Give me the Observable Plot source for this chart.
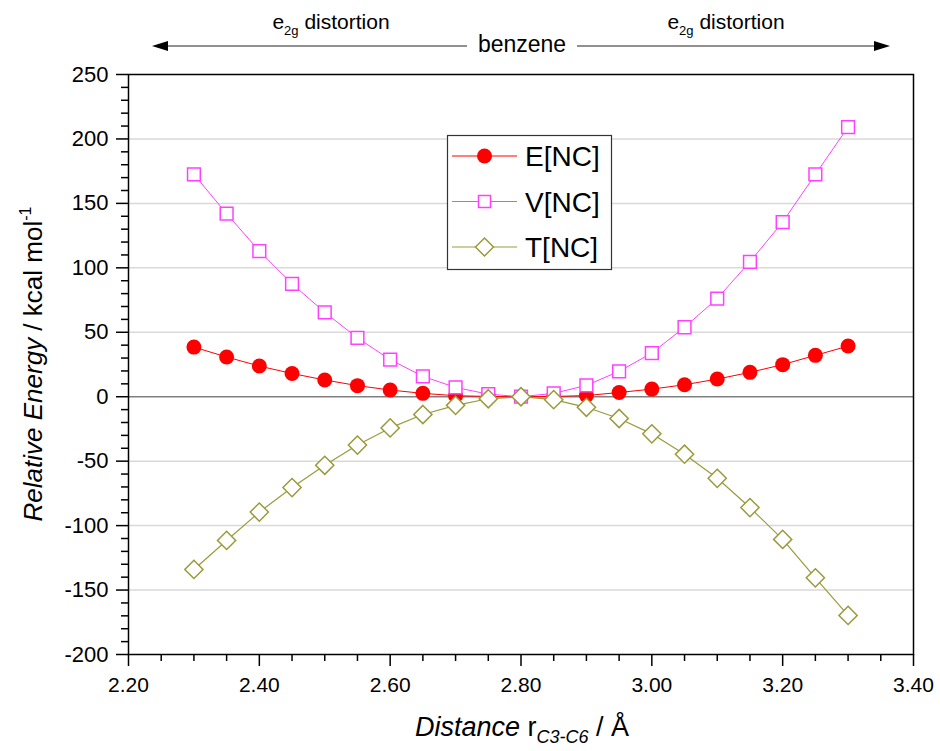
<!DOCTYPE html>
<html><head><meta charset="utf-8">
<script src="https://cdn.jsdelivr.net/npm/d3@7"></script>
<script src="https://cdn.jsdelivr.net/npm/@observablehq/plot@0.6"></script>
<style>
body{margin:0;background:#fff;}
svg{font-family:Arial,"Liberation Sans",sans-serif;}
</style>
</head><body><div id="chart"></div>
<script>
// ---- data ----
const distance = [2.30,2.35,2.40,2.45,2.50,2.55,2.60,2.65,2.70,2.75,2.80,2.85,2.90,2.95,3.00,3.05,3.10,3.15,3.20,3.25,3.30];
const eNC = [38.5,30.8,23.8,18.0,13.0,8.6,5.2,2.6,0.8,0.2,0,0.2,0.9,3.3,5.9,9.3,13.7,18.9,24.9,32.1,39.3];
const vNC = [172.5,142,113,87.6,65.5,45.6,28.8,15.8,7.2,2.0,0,2.6,8.8,19.7,33.9,53.9,76.2,104.7,135.5,172.5,209.2];
const tNC = [-134,-111.5,-89.5,-70.5,-53.2,-37.5,-24.2,-13.8,-6.7,-1.6,0,-2.3,-8.2,-16.9,-28.8,-44.6,-63.3,-86,-110.7,-140.5,-169.7];
const seriesNames = ["E[NC]","V[NC]","T[NC]"];
const xTicks = [2.20,2.40,2.60,2.80,3.00,3.20,3.40];
const yTicks = [-200,-150,-100,-50,0,50,100,150,200,250];
const xMinor = d3.range(2.20, 3.4001, 0.05).map(v => +v.toFixed(2)).filter(v => !xTicks.some(t => Math.abs(t - v) < 1e-6));
const yMinor = d3.range(-200, 251, 10).filter(v => v % 50 !== 0);

const colE = "#ff0000", colV = "#ff40ff", colT = "#9a9a3c";

const rows = distance.map((d, i) => ({x: d, E: eNC[i], V: vNC[i], T: tNC[i]}));

const svg = Plot.plot({
  width: 940, height: 751,
  marginLeft: 128, marginRight: 27, marginTop: 74, marginBottom: 97,
  x: {domain: [2.2, 3.4]},
  y: {domain: [-200, 250]},
  marks: [
    Plot.ruleY(yTicks.filter(v => v !== 0 && v !== 250 && v !== -200), {stroke: "#d9d9d9", strokeWidth: 1.5}),
    Plot.ruleY([0], {stroke: "#808080", strokeWidth: 1.5}),
    Plot.axisX(xTicks, {tickSize: 12, tickPadding: 11, tickFormat: d3.format(".2f"), fontSize: 21, strokeWidth: 1.5, label: null, fill: "#000"}),
    Plot.axisX(xMinor, {tickSize: 7, tickFormat: () => "", strokeWidth: 1.5, label: null}),
    Plot.axisY(yTicks, {tickSize: 12, tickPadding: 8, tickFormat: d => String(d), fontSize: 22, strokeWidth: 1.5, label: null, fill: "#000"}),
    Plot.axisY(yMinor, {tickSize: 7, tickFormat: () => "", strokeWidth: 1.5, label: null}),
    Plot.line(rows, {x: "x", y: "E", stroke: colE, strokeWidth: 1}),
    Plot.dot(rows, {x: "x", y: "E", r: 7.5, fill: colE, stroke: "none"}),
    Plot.line(rows, {x: "x", y: "V", stroke: colV, strokeWidth: 1}),
    Plot.dot(rows, {x: "x", y: "V", symbol: "square", r: 7.2, fill: "white", stroke: colV, strokeWidth: 1.5}),
    Plot.line(rows, {x: "x", y: "T", stroke: colT, strokeWidth: 1.2}),
    Plot.dot(rows, {x: "x", y: "T", symbol: "diamond2", r: 8.2, fill: "white", stroke: colT, strokeWidth: 1.5}),
    Plot.frame({stroke: "#000", strokeWidth: 1.5})
  ]
});

const s = d3.select(svg);

// y-axis title
const yt = s.append("text")
  .attr("transform", "translate(42,364) rotate(-90)")
  .attr("text-anchor", "middle")
  .attr("font-size", 26).attr("fill", "#000");
yt.append("tspan").attr("font-style", "italic").text("Relative Energy");
yt.append("tspan").text(" / kcal mol");
yt.append("tspan").attr("font-size", 16).attr("dy", -11).text("-1");

// x-axis title
const xt = s.append("text")
  .attr("x", 522).attr("y", 736)
  .attr("text-anchor", "middle")
  .attr("font-size", 27).attr("fill", "#000");
xt.append("tspan").attr("font-style", "italic").text("Distance");
xt.append("tspan").text(" r");
xt.append("tspan").attr("font-style", "italic").attr("font-size", 18).attr("dy", 7).text("C3-C6");
xt.append("tspan").attr("dy", -7).text(" / Å");

// top annotation
const ann = s.append("g").attr("fill", "#000");
ann.append("line").attr("x1", 160).attr("x2", 467).attr("y1", 46).attr("y2", 46).attr("stroke", "#222").attr("stroke-width", 1.2);
ann.append("path").attr("d", "M152,46 L168,41 L168,51 Z");
ann.append("line").attr("x1", 577).attr("x2", 882).attr("y1", 46).attr("y2", 46).attr("stroke", "#222").attr("stroke-width", 1.2);
ann.append("path").attr("d", "M890,46 L874,41 L874,51 Z");
ann.append("text").attr("x", 522).attr("y", 52).attr("text-anchor", "middle").attr("font-size", 23).text("benzene");
for (const cx of [331, 726]) {
  const t = ann.append("text").attr("x", cx).attr("y", 29).attr("text-anchor", "middle").attr("font-size", 21);
  t.append("tspan").text("e");
  t.append("tspan").attr("font-size", 13).attr("dy", 6).text("2g");
  t.append("tspan").attr("dy", -6).text(" distortion");
}

// legend
const lg = s.append("g");
lg.append("rect").attr("x", 447.5).attr("y", 135.5).attr("width", 164).attr("height", 134)
  .attr("fill", "white").attr("stroke", "#333").attr("stroke-width", 1.2);
const legendRows = [
  {name: seriesNames[0], color: colE, y: 156},
  {name: seriesNames[1], color: colV, y: 201.5},
  {name: seriesNames[2], color: colT, y: 247}
];
legendRows.forEach((r, i) => {
  lg.append("line").attr("x1", 452).attr("x2", 517).attr("y1", r.y).attr("y2", r.y).attr("stroke", r.color).attr("stroke-width", 1);
  if (i === 0) lg.append("circle").attr("cx", 484.5).attr("cy", r.y).attr("r", 7.5).attr("fill", r.color);
  if (i === 1) lg.append("rect").attr("x", 478.5).attr("y", r.y - 6).attr("width", 12).attr("height", 12).attr("fill", "white").attr("stroke", r.color).attr("stroke-width", 1.5);
  if (i === 2) lg.append("path").attr("d", `M484.5,${r.y-9} L493.5,${r.y} L484.5,${r.y+9} L475.5,${r.y} Z`).attr("fill", "white").attr("stroke", r.color).attr("stroke-width", 1.5);
  lg.append("text").attr("x", 525).attr("y", r.y).attr("dy", "0.36em").attr("text-anchor", "start")
    .attr("font-size", 28).attr("fill", "#000").text(r.name);
});

document.getElementById("chart").appendChild(svg);
</script>
</body></html>
